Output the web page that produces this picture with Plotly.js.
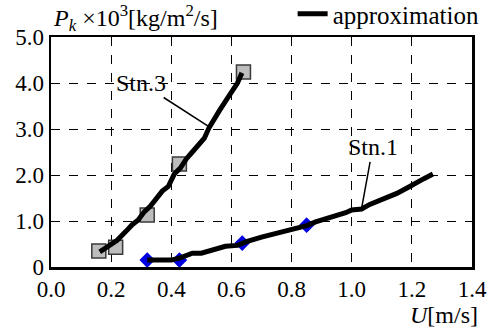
<!DOCTYPE html>
<html>
<head>
<meta charset="utf-8">
<script src="https://cdn.plot.ly/plotly-3.0.1.min.js"></script>
<style>html,body{margin:0;padding:0;background:#fff;font-family:'Liberation Serif';}#chart{width:499px;height:327px;}</style>
</head>
<body>
<div id="chart"></div>
<script>
// Measured points
const stn3X = [0.159, 0.215, 0.32, 0.427, 0.64];
const stn3Y = [0.35, 0.43, 1.13, 2.24, 4.24];
const stn1X = [0.32, 0.427, 0.636, 0.85];
const stn1Y = [0.15, 0.15, 0.52, 0.91];
// Approximation curves
const approx3X = [0.162, 0.19, 0.22, 0.25, 0.27, 0.29, 0.31, 0.33, 0.35, 0.37, 0.39, 0.40, 0.41, 0.43, 0.45, 0.47, 0.49, 0.51, 0.525, 0.54, 0.56, 0.58, 0.60, 0.62, 0.635];
const approx3Y = [0.33, 0.45, 0.58, 0.78, 0.92, 1.02, 1.2, 1.32, 1.5, 1.65, 1.75, 1.9, 2.02, 2.15, 2.35, 2.5, 2.65, 2.8, 3.02, 3.2, 3.4, 3.6, 3.82, 4.0, 4.22];
const approx1X = [0.32, 0.40, 0.43, 0.47, 0.50, 0.55, 0.58, 0.62, 0.65, 0.70, 0.75, 0.80, 0.85, 0.88, 0.92, 0.95, 0.98, 1.00, 1.033, 1.06, 1.10, 1.15, 1.19, 1.21, 1.24, 1.27];
const approx1Y = [0.15, 0.15, 0.2, 0.3, 0.3, 0.4, 0.45, 0.47, 0.55, 0.65, 0.73, 0.82, 0.9, 0.98, 1.05, 1.1, 1.18, 1.24, 1.26, 1.36, 1.46, 1.6, 1.74, 1.82, 1.92, 2.02];
// Labels
const xTicks = [0, 0.2, 0.4, 0.6, 0.8, 1.0, 1.2, 1.4];
const xTickText = ['0.0','0.2','0.4','0.6','0.8','1.0','1.2','1.4'];
const yTicks = [0, 1, 2, 3, 4, 5];
const yTickText = ['0','1.0','2.0','3.0','4.0','5.0'];
const stationLabels = ['Stn.3', 'Stn.1'];
const labelPosX = [0.30, 1.07];
const labelPosY = [4.0, 2.6];
const labelTipX = [0.525, 1.033];
const labelTipY = [3.05, 1.28];

const traces = [
  {x: stn3X, y: stn3Y, mode: 'markers', type: 'scatter', showlegend: false,
   marker: {symbol: 'square', size: 14, color: '#bdbdbd', line: {color: '#3a3a3a', width: 1.5}}},
  {x: stn1X, y: stn1Y, mode: 'markers', type: 'scatter', showlegend: false,
   marker: {symbol: 'diamond', size: 12, color: '#0000e0', line: {width: 0}}},
  {x: approx3X, y: approx3Y, mode: 'lines', type: 'scatter', name: 'approximation', showlegend: true,
   line: {color: '#000', width: 5}},
  {x: approx1X, y: approx1Y, mode: 'lines', type: 'scatter', showlegend: false,
   line: {color: '#000', width: 5}}
];

const annotations = stationLabels.map((t, i) => ({
  text: t, x: labelTipX[i], y: labelTipY[i], xref: 'x', yref: 'y',
  ax: labelPosX[i], ay: labelPosY[i], axref: 'x', ayref: 'y',
  showarrow: true, arrowhead: 0, arrowwidth: 1.5, arrowcolor: '#000', standoff: 0,
  font: {size: 24}
}));
annotations.push({
  text: '<i>P</i><sub><i>k</i></sub> ×10<sup>3</sup>[kg/m<sup>2</sup>/s]',
  xref: 'paper', yref: 'paper', x: 0, y: 1, xanchor: 'left', yanchor: 'bottom', yshift: 0, xshift: 0,
  showarrow: false, font: {size: 24}
});
annotations.push({
  text: '<i>U</i>[m/s]',
  xref: 'paper', yref: 'paper', x: 1, y: 0, xanchor: 'right', yanchor: 'top', yshift: -33, xshift: 8,
  showarrow: false, font: {size: 24}
});

const layout = {
  width: 499, height: 327,
  margin: {l: 51, r: 27, t: 37, b: 60, autoexpand: false},
  paper_bgcolor: '#fff', plot_bgcolor: '#fff',
  font: {family: 'Liberation Serif', size: 23, color: '#000'},
  xaxis: {range: [0, 1.4], tickvals: xTicks, ticktext: xTickText, showline: true, linecolor: '#000', linewidth: 2.5,
          mirror: true, showgrid: true, gridcolor: '#000', gridwidth: 1, griddash: 'dash', zeroline: false,
          ticks: '', automargin: false},
  yaxis: {range: [0, 5], tickvals: yTicks, ticktext: yTickText, showline: true, linecolor: '#000', linewidth: 2.5,
          mirror: true, showgrid: true, gridcolor: '#000', gridwidth: 1, griddash: 'dash', zeroline: false,
          ticks: '', automargin: false},
  showlegend: true,
  legend: {x: 1.03, y: 1.0, xanchor: 'right', yanchor: 'bottom', bgcolor: 'rgba(0,0,0,0)',
           font: {size: 25}, itemwidth: 30, tracegroupgap: 0},
  annotations: annotations
};

Plotly.newPlot('chart', traces, layout, {staticPlot: true, displayModeBar: false});
</script>
</body>
</html>
